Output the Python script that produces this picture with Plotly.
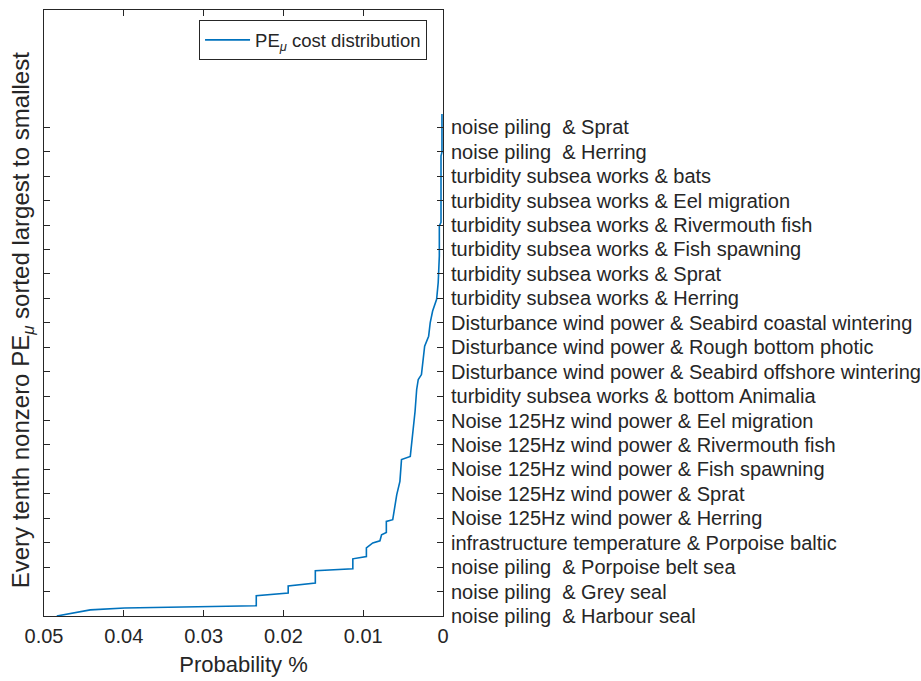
import plotly.graph_objects as go

# Probability % (x) against rank (every tenth nonzero PEmu, sorted)
prob = [0.0484, 0.0442, 0.0399, 0.0301, 0.0234, 0.0234, 0.0194, 0.0194, 0.0160, 0.0160,
        0.0113, 0.0113, 0.0096, 0.0096, 0.0088, 0.0079, 0.0077, 0.0071, 0.0071, 0.0063,
        0.0060, 0.0058, 0.0054, 0.0052, 0.0041, 0.0039, 0.0037, 0.0035, 0.0033, 0.0031,
        0.0027, 0.0023, 0.0018, 0.0016, 0.0013, 0.0010, 0.0008, 0.0006, 0.00046, 0.00046,
        0.00025, 0.00025, 0.00013, 0.00013]
rank = [1, 3.5, 4.3, 4.8, 5.2, 9.3, 10.4, 13.3, 14.5, 19.5,
        20.3, 24.4, 25.3, 28.9, 30.9, 31.8, 34.2, 35.2, 39.7, 40.4,
        46.5, 50.6, 56.1, 65, 66.3, 71.9, 80.1, 84.8, 93.7, 97.8,
        99.8, 111.4, 115.5, 121.1, 125.8, 129.3, 130.6, 137.5, 148.3, 160.6,
        162.1, 189.3, 190.8, 206.4]

NB = "\u00a0"
tick_labels = [
    "noise piling " + NB + "& Harbour seal",
    "noise piling " + NB + "& Grey seal",
    "noise piling " + NB + "& Porpoise belt sea",
    "infrastructure temperature & Porpoise baltic",
    "Noise 125Hz wind power & Herring",
    "Noise 125Hz wind power & Sprat",
    "Noise 125Hz wind power & Fish spawning",
    "Noise 125Hz wind power & Rivermouth fish",
    "Noise 125Hz wind power & Eel migration",
    "turbidity subsea works & bottom Animalia",
    "Disturbance wind power & Seabird offshore wintering",
    "Disturbance wind power & Rough bottom photic",
    "Disturbance wind power & Seabird coastal wintering",
    "turbidity subsea works & Herring",
    "turbidity subsea works & Sprat",
    "turbidity subsea works & Fish spawning",
    "turbidity subsea works & Rivermouth fish",
    "turbidity subsea works & Eel migration",
    "turbidity subsea works & bats",
    "noise piling " + NB + "& Herring",
    "noise piling " + NB + "& Sprat",
]
tick_vals = [1 + 10 * i for i in range(len(tick_labels))]

x_ticks = [0.05, 0.04, 0.03, 0.02, 0.01, 0]
x_tick_text = ["0.05", "0.04", "0.03", "0.02", "0.01", "0"]

TXT = "#262626"
FONT = "Liberation Sans, Arial, sans-serif"

fig = go.Figure()
fig.add_trace(go.Scatter(
    x=prob, y=rank, mode="lines",
    line=dict(color="#0072BD", width=1.6),
    name="PE<sub><i>μ</i></sub> cost distribution",
))

fig.update_layout(
    width=921, height=681,
    margin=dict(l=44, r=478, t=10, b=65),
    plot_bgcolor="white", paper_bgcolor="white",
    font=dict(family=FONT, size=20, color=TXT),
    showlegend=True,
    legend=dict(
        x=0.96, y=0.983, xanchor="right", yanchor="top",
        bordercolor=TXT, borderwidth=1, bgcolor="white",
        font=dict(size=18.5, color=TXT),
        itemwidth=45,
    ),
    xaxis=dict(
        range=[0.05, 0], tickvals=x_ticks, ticktext=x_tick_text,
        showgrid=False, zeroline=False, automargin=False,
        showline=True, linecolor=TXT, linewidth=1, mirror="ticks",
        ticks="inside", ticklen=6, tickcolor=TXT,
        ticklabelstandoff=2,
        tickfont=dict(size=20, color=TXT),
        title=dict(text="Probability %", font=dict(size=22, color=TXT), standoff=10),
    ),
    yaxis=dict(
        range=[1, 249], side="right",
        tickvals=tick_vals, ticktext=tick_labels,
        showgrid=False, zeroline=False, automargin=False,
        showline=True, linecolor=TXT, linewidth=1, mirror="ticks",
        ticks="inside", ticklen=6, tickcolor=TXT,
        ticklabelstandoff=3,
        tickfont=dict(size=20, color=TXT),
    ),
    annotations=[dict(
        text="Every tenth nonzero PE<sub><i>μ</i></sub> sorted largest to smallest",
        xref="paper", yref="paper", x=-0.055, y=0.488,
        xanchor="center", yanchor="middle", textangle=-90,
        showarrow=False, font=dict(size=24, color=TXT),
    )],
)

fig.write_html(
    "out.html",
    config={"displayModeBar": False},
    post_script="document.body.style.margin='0';document.body.style.overflow='hidden';",
)
